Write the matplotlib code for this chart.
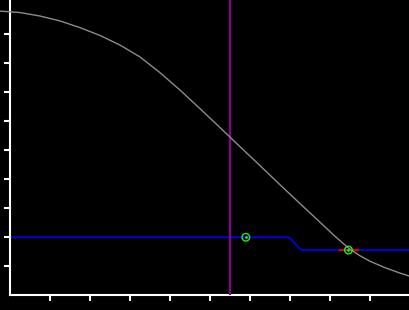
import numpy as np
import matplotlib
matplotlib.use('Agg')
import matplotlib.pyplot as plt

# grey falling curve
curve_x = [-0.26, 0.24, 0.74, 1.24, 1.74, 2.24, 2.74, 3.24, 3.74, 4.24, 4.74, 5.24,
           5.74, 6.24, 6.74, 7.24, 7.74, 8.11, 8.46, 8.74, 8.99, 9.36, 9.74, 9.99]
curve_y = [9.80, 9.75, 9.63, 9.46, 9.23, 8.96, 8.63, 8.22, 7.68, 7.08, 6.44, 5.79,
           5.13, 4.48, 3.82, 3.17, 2.53, 2.05, 1.63, 1.37, 1.18, 0.96, 0.77, 0.66]

# blue step line
step_x = [0.0, 6.94, 6.99, 7.06, 7.13, 7.20, 7.29, 10.0]
step_y = [2.0, 2.0, 1.98, 1.88, 1.77, 1.66, 1.56, 1.56]

# markers and the short red segment
marker_x = [5.89, 8.46]
marker_y = [2.0, 1.56]
red_x = [8.24, 8.69]
red_y = [1.56, 1.56]

vline_x = 5.5

fig = plt.figure(figsize=(4.1, 3.1), dpi=100, facecolor='black')
ax = fig.add_axes([10.5 / 410, 14.7 / 310, 399.5 / 410, 295.3 / 310])
ax.set_facecolor('black')

ax.plot(step_x, step_y, color='#0000ee', lw=1.3, zorder=2)
ax.plot(red_x, red_y, color='#dd0000', lw=1.5, zorder=3)
ax.axvline(vline_x, color='#8b008b', lw=1.6, zorder=3)
ax.plot(curve_x, curve_y, color='#8c8c8c', lw=1.0, zorder=4, clip_on=False)
ax.scatter(marker_x, marker_y, s=30, facecolors='none', edgecolors='#22ee22',
           linewidths=1.0, zorder=5)
ax.scatter(marker_x, marker_y, s=1.0, color='#22ee22', zorder=5)

# axes formatting
ax.set_xlim(0, 10)
ax.set_ylim(0, 295.3 / 29)
ax.set_xticks(range(1, 10))
ax.set_yticks(range(1, 10))
ax.set_xticklabels([])
ax.set_yticklabels([])
for side in ['top', 'right']:
    ax.spines[side].set_visible(False)
for side in ['left', 'bottom']:
    ax.spines[side].set_color('white')
    ax.spines[side].set_linewidth(1.5)
ax.tick_params(colors='white', direction='out', length=4, width=1.5)

fig.savefig('out.png', dpi=100, facecolor='black')
